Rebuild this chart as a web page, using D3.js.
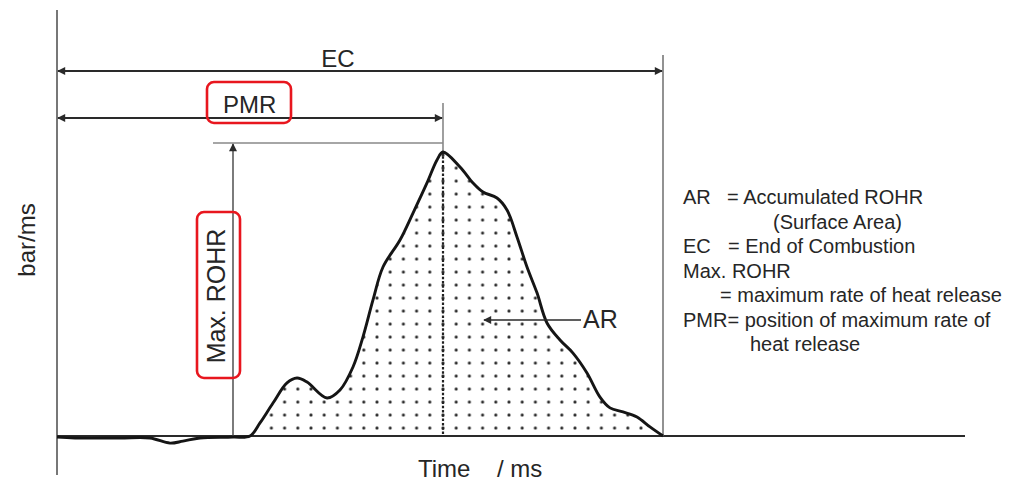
<!DOCTYPE html>
<html>
<head>
<meta charset="utf-8">
<script src="https://cdn.jsdelivr.net/npm/d3@7"></script>
<style>
  html, body { margin: 0; padding: 0; background: #fff; }
  svg { display: block; font-family: "Liberation Sans", Arial, sans-serif; }
</style>
</head>
<body>
<svg id="chart" width="1021" height="484"></svg>
<script>
// Rate of heat release (ROHR) trace, time in ms, normalised bar/ms
const timeMs = [0, 0.9, 3.15, 4.65, 5.65, 6.3, 7.15, 8.8, 9.65, 10.15, 10.8, 11.5, 12.0, 12.5,
  13.5, 14.15, 14.8, 15.3, 15.8, 16.3, 17.15, 17.8, 18.5, 19.0, 19.3, 20.15, 20.8, 21.3,
  22.0, 22.5, 23.0, 23.5, 24.0, 24.5, 25.15, 25.8, 26.5, 27.15, 27.65, 28.3, 29.0, 29.65, 30.3];
const rohr = [-0.004, -0.007, -0.007, -0.007, -0.025, -0.018, -0.007, -0.004, 0, 0.046, 0.116,
  0.187, 0.204, 0.190, 0.134, 0.162, 0.243, 0.349, 0.479, 0.595, 0.690, 0.785, 0.891, 0.972,
  1.0, 0.947, 0.891, 0.859, 0.838, 0.796, 0.701, 0.595, 0.504, 0.398, 0.338, 0.292, 0.222,
  0.137, 0.099, 0.085, 0.067, 0.032, 0];

const axisLabels = { x: ["Time", "/ ms"], y: "bar/ms" };
const markerLabels = { ec: "EC", pmr: "PMR", max: "Max. ROHR", ar: "AR" };
const legendLines = [
  ["AR", "= Accumulated ROHR"],
  ["", "(Surface Area)"],
  ["EC", "= End of Combustion"],
  ["Max. ROHR", ""],
  ["", "= maximum rate of heat release"],
  ["PMR= position of maximum rate of", ""],
  ["", "heat release"]
];

const data = timeMs.map((t, i) => ({ t, v: rohr[i] }));

const svg = d3.select("#chart");
const x = d3.scaleLinear().domain([0, 45.4]).range([57, 965]);
const y = d3.scaleLinear().domain([0, 1]).range([436, 152]);

// derived quantities
const peak = data.reduce((a, b) => (b.v > a.v ? b : a));
const ecTime = timeMs[timeMs.length - 1];
const startTime = data.find(d => d.v > 0).t;

const defs = svg.append("defs");
defs.append("marker")
  .attr("id", "arrow")
  .attr("viewBox", "0 0 10 10")
  .attr("refX", 9).attr("refY", 5)
  .attr("markerUnits", "userSpaceOnUse")
  .attr("markerWidth", 9).attr("markerHeight", 8)
  .attr("orient", "auto-start-reverse")
  .append("path").attr("d", "M0,0 L10,5 L0,10 z").attr("fill", "#2a2a2a");

const pat = defs.append("pattern")
  .attr("id", "dots")
  .attr("patternUnits", "userSpaceOnUse")
  .attr("width", 13.2).attr("height", 13)
  .attr("x", x(peak.t) - 6.6).attr("y", y(0) - 8 - 6.5);
pat.append("circle").attr("cx", 6.6).attr("cy", 6.5).attr("r", 1.55).attr("fill", "#222");

// dotted surface (accumulated ROHR)
const areaData = data.filter(d => d.t >= startTime - 0.01);
svg.append("path")
  .datum(areaData)
  .attr("fill", "url(#dots)")
  .attr("d", d3.area()
    .x(d => x(d.t))
    .y0(y(0))
    .y1(d => y(Math.max(0, d.v)))
    .curve(d3.curveCatmullRom));

// axes
svg.append("line")
  .attr("x1", x(0)).attr("x2", x(0))
  .attr("y1", y(1.5)).attr("y2", y(-0.137))
  .attr("stroke", "#555").attr("stroke-width", 1.6);
svg.append("line")
  .attr("x1", x(0)).attr("x2", x(45.4))
  .attr("y1", y(0)).attr("y2", y(0))
  .attr("stroke", "#2a2a2a").attr("stroke-width", 2.2);

// EC vertical
svg.append("line")
  .attr("x1", x(ecTime)).attr("x2", x(ecTime))
  .attr("y1", 55).attr("y2", y(0))
  .attr("stroke", "#777").attr("stroke-width", 1.6);

// PMR vertical: solid above the peak, dashed below
svg.append("line")
  .attr("x1", x(peak.t)).attr("x2", x(peak.t))
  .attr("y1", 103).attr("y2", y(peak.v))
  .attr("stroke", "#777").attr("stroke-width", 1.4);
svg.append("line")
  .attr("x1", x(peak.t)).attr("x2", x(peak.t))
  .attr("y1", y(peak.v)).attr("y2", y(0))
  .attr("stroke", "#222").attr("stroke-width", 2.2)
  .attr("stroke-dasharray", "2.5,1.8");

// Max ROHR guide and arrow
const maxGuideY = y(peak.v) - 9;
svg.append("line")
  .attr("x1", x(7.8)).attr("x2", x(peak.t))
  .attr("y1", maxGuideY).attr("y2", maxGuideY)
  .attr("stroke", "#888").attr("stroke-width", 1.6);
svg.append("line")
  .attr("x1", x(8.8)).attr("x2", x(8.8))
  .attr("y1", y(0)).attr("y2", maxGuideY + 1)
  .attr("stroke", "#444").attr("stroke-width", 1.4)
  .attr("marker-end", "url(#arrow)");

// EC and PMR dimension arrows
svg.append("line")
  .attr("x1", x(0) + 1).attr("x2", x(ecTime) - 1)
  .attr("y1", 71).attr("y2", 71)
  .attr("stroke", "#2a2a2a").attr("stroke-width", 1.9)
  .attr("marker-start", "url(#arrow)").attr("marker-end", "url(#arrow)");
svg.append("line")
  .attr("x1", x(0) + 1).attr("x2", x(peak.t) - 1)
  .attr("y1", 118).attr("y2", 118)
  .attr("stroke", "#2a2a2a").attr("stroke-width", 1.9)
  .attr("marker-start", "url(#arrow)").attr("marker-end", "url(#arrow)");

// ROHR curve
svg.append("path")
  .datum(data)
  .attr("fill", "none")
  .attr("stroke", "#151515")
  .attr("stroke-width", 2.9)
  .attr("stroke-linejoin", "round")
  .attr("d", d3.line().x(d => x(d.t)).y(d => y(d.v)).curve(d3.curveCatmullRom));

// AR pointer
svg.append("line")
  .attr("x1", 581).attr("x2", 484)
  .attr("y1", 320).attr("y2", 320)
  .attr("stroke", "#2a2a2a").attr("stroke-width", 1.4)
  .attr("marker-end", "url(#arrow)");

const textColor = "#262626";
svg.append("text").attr("x", 338).attr("y", 67)
  .attr("text-anchor", "middle").attr("font-size", 24).attr("fill", textColor)
  .text(markerLabels.ec);
svg.append("text").attr("x", 223).attr("y", 113)
  .attr("font-size", 24).attr("fill", textColor)
  .text(markerLabels.pmr);
svg.append("text").attr("x", 583).attr("y", 328)
  .attr("font-size", 25).attr("fill", textColor)
  .text(markerLabels.ar);
svg.append("text")
  .attr("transform", "translate(225,296) rotate(-90)")
  .attr("text-anchor", "middle").attr("font-size", 25).attr("fill", textColor)
  .text(markerLabels.max);
svg.append("text")
  .attr("transform", "translate(35,240) rotate(-90)")
  .attr("text-anchor", "middle").attr("font-size", 24).attr("fill", textColor)
  .text(axisLabels.y);

const xl = svg.append("text").attr("y", 477).attr("font-size", 24).attr("fill", textColor);
xl.append("tspan").attr("x", 418).text(axisLabels.x[0]);
xl.append("tspan").attr("x", 497).text(axisLabels.x[1]);

// highlight boxes
svg.append("rect").attr("x", 207).attr("y", 82).attr("width", 84).attr("height", 41)
  .attr("rx", 7).attr("fill", "none").attr("stroke", "#e8161e").attr("stroke-width", 2.6);
svg.append("rect").attr("x", 197).attr("y", 212).attr("width", 43).attr("height", 166)
  .attr("rx", 7).attr("fill", "none").attr("stroke", "#e8161e").attr("stroke-width", 2.6);

// legend
const lg = svg.append("g").attr("font-size", 20).attr("fill", textColor);
const indents = [[683, 727], [683, 773], [683, 728], [683, 0], [683, 720], [683, 0], [683, 750]];
legendLines.forEach((ln, i) => {
  const by = 204 + i * 24.5;
  if (ln[0]) lg.append("text").attr("x", indents[i][0]).attr("y", by).text(ln[0]);
  if (ln[1]) lg.append("text").attr("x", indents[i][1]).attr("y", by).text(ln[1]);
});
</script>
</body>
</html>
